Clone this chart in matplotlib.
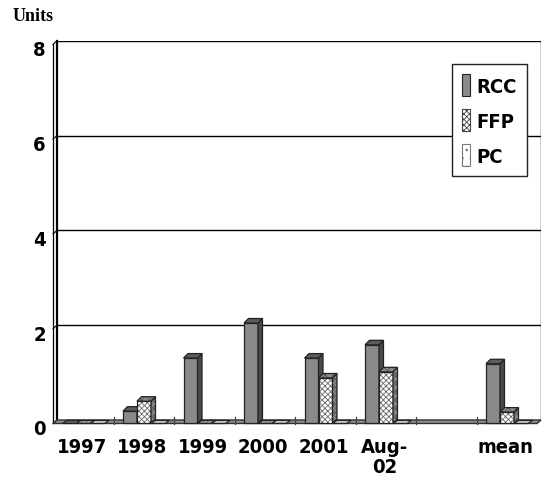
import numpy as np
import matplotlib
matplotlib.use("Agg")
import matplotlib.pyplot as plt
from matplotlib.patches import Polygon, Patch
from matplotlib import transforms

# ---- data -------------------------------------------------------------
categories = ["1997", "1998", "1999", "2000", "2001", "Aug-\n02", "", "mean"]
rcc = [0.0, 0.26, 1.38, 2.12, 1.38, 1.66, np.nan, 1.26]
ffp = [0.0, 0.47, 0.0, 0.0, 0.96, 1.09, np.nan, 0.24]
pc = [0.0, 0.0, 0.0, 0.0, 0.0, 0.0, np.nan, 0.0]
series_names = ["RCC", "FFP", "PC"]
y_ticks = [0, 2, 4, 6, 8]

# ---- style ------------------------------------------------------------
plt.rcParams["hatch.linewidth"] = 0.6
FONT = dict(family="DejaVu Sans", stretch="condensed", weight="bold", size=14.5)

W, H = 544, 489
fig = plt.figure(figsize=(W / 100, H / 100), dpi=100)
ax = fig.add_axes([57 / W, (H - 428.1) / H, 484 / W, 386.3 / H])
ax.set_xlim(0, len(categories))
ax.set_ylim(-0.15, 8)
for s in ax.spines.values():
    s.set_visible(False)

# pseudo-3D geometry in data units
DX = 4 / 60.5       # front plane shift (left)
DY = 3.5 / 47.4     # front plane shift (down)
BAR_W = 14 / 60.5
BAR_OFF = 5.5 / 60.5
SIDE = 4.5 / 60.5
TOP = 4.5 / 47.4

styles = [
    dict(front="#8a8a8a", fh=None, side="#4a4a4a", top="#5c5c5c", flat="#5e5e5e"),
    dict(front="white", fh=("xxxxxx", "#6a6a6a"), side="#666666", top="#8a8a8a", flat="#a0a0a0"),
    dict(front="white", fh=("..", "#9a9a9a"), side="#8a8a8a", top="#bdbdbd", flat="#c4c4c4"),
]

# back wall grid and frame
xmax = len(categories)
for v in y_ticks[1:]:
    ax.plot([0, xmax], [v, v], color="black", lw=1.0, zorder=1)
ax.plot([xmax, xmax], [0, 8], color="black", lw=1.0, zorder=1)

# left wall
wall = Polygon([(-DX, -DY), (0, 0), (0, 8), (-DX, 8 - DY)], closed=True,
               facecolor="white", edgecolor="none", clip_on=False, zorder=1)
ax.add_patch(wall)
ax.plot([0, 0], [0, 8], color="black", lw=1.6, zorder=2, clip_on=False)
ax.plot([-DX, -DX], [-DY, 8 - DY], color="black", lw=0.9, zorder=2, clip_on=False)
for v in y_ticks:
    ax.plot([-DX, 0], [v - DY, v], color="black", lw=0.8, zorder=2, clip_on=False)

# floor
floor = Polygon([(-DX, -DY), (xmax - DX, -DY), (xmax, 0), (0, 0)], closed=True,
                facecolor="#8f8f8f", edgecolor="#303030", lw=1.0, zorder=2, clip_on=False)
ax.add_patch(floor)
for k in range(1, xmax):
    ax.plot([k - DX, k - DX], [-DY - 0.02, 0.06], color="#404040", lw=0.9, zorder=2.5)


def face(poly_pts, color, hatch, z):
    if hatch is None:
        ax.add_patch(Polygon(poly_pts, closed=True, facecolor=color,
                             edgecolor="#222222", lw=0.9, zorder=z))
    else:
        ax.add_patch(Polygon(poly_pts, closed=True, facecolor=color,
                             edgecolor=hatch[1], hatch=hatch[0], lw=0, zorder=z))
        ax.add_patch(Polygon(poly_pts, closed=True, fill=False,
                             edgecolor="#222222", lw=0.9, zorder=z + 0.001))


flat_hatch = [None, ("////////", "#666666"), None]
series = [rcc, ffp, pc]
for i in range(len(categories)):
    for j, vals in enumerate(series):
        v = vals[i]
        if np.isnan(v):
            continue
        st = styles[j]
        x0 = i + BAR_OFF + j * BAR_W
        yb = -DY
        z = 3 + i * 0.1 + j * 0.01
        if v == 0:
            pts = [(x0, yb), (x0 + BAR_W, yb), (x0 + BAR_W + SIDE, yb + TOP * 0.7),
                   (x0 + SIDE, yb + TOP * 0.7)]
            face(pts, st["flat"], flat_hatch[j], z)
            continue
        yt = yb + v
        face([(x0, yb), (x0 + BAR_W, yb), (x0 + BAR_W, yt), (x0, yt)], st["front"], st["fh"], z)
        face([(x0 + BAR_W, yb), (x0 + BAR_W + SIDE, yb + TOP),
              (x0 + BAR_W + SIDE, yt + TOP), (x0 + BAR_W, yt)], st["side"],
             None if j == 0 else ("xxxx", "#9a9a9a"), z + 0.002)
        face([(x0, yt), (x0 + BAR_W, yt), (x0 + BAR_W + SIDE, yt + TOP),
              (x0 + SIDE, yt + TOP)], st["top"],
             None if j == 0 else ("xxxx", "#5a5a5a"), z + 0.004)

# ticks
ax.set_xticks(np.arange(xmax) + 0.41)
ax.set_xticklabels(categories, fontdict=FONT, linespacing=1.05)
ax.set_yticks(y_ticks)
ax.set_yticklabels([str(v) for v in y_ticks], fontdict=FONT)
ax.tick_params(axis="x", length=0, pad=7)
ax.tick_params(axis="y", length=0, pad=8)
shift = transforms.ScaledTranslation(0, -7 / 100, fig.dpi_scale_trans)
for lab in ax.get_yticklabels():
    lab.set_transform(lab.get_transform() + shift)

# legend
handles = [
    Patch(facecolor="#8a8a8a", edgecolor="#222222", lw=0.8),
    Patch(facecolor="white", edgecolor="#444444", hatch="xxxxxx", lw=0.8),
    Patch(facecolor="white", edgecolor="#777777", hatch="..", lw=0.8),
]
leg = fig.legend(handles, series_names, loc="upper left",
                 bbox_to_anchor=(452 / W, 1 - 65 / H), bbox_transform=fig.transFigure,
                 frameon=True, fancybox=False, framealpha=1, edgecolor="#222222",
                 handlelength=0.4, handleheight=1.3, handletextpad=0.3,
                 labelspacing=0.65, borderpad=0.5, borderaxespad=0,
                 prop=FONT)
leg.get_frame().set_linewidth(1.0)
leg.set_zorder(10)

fig.text(13 / W, 1 - 21 / H, "Units", family=["Liberation Serif", "DejaVu Serif"],
         weight="bold", fontsize=13, va="baseline", ha="left")

fig.savefig("out.png", dpi=100)
